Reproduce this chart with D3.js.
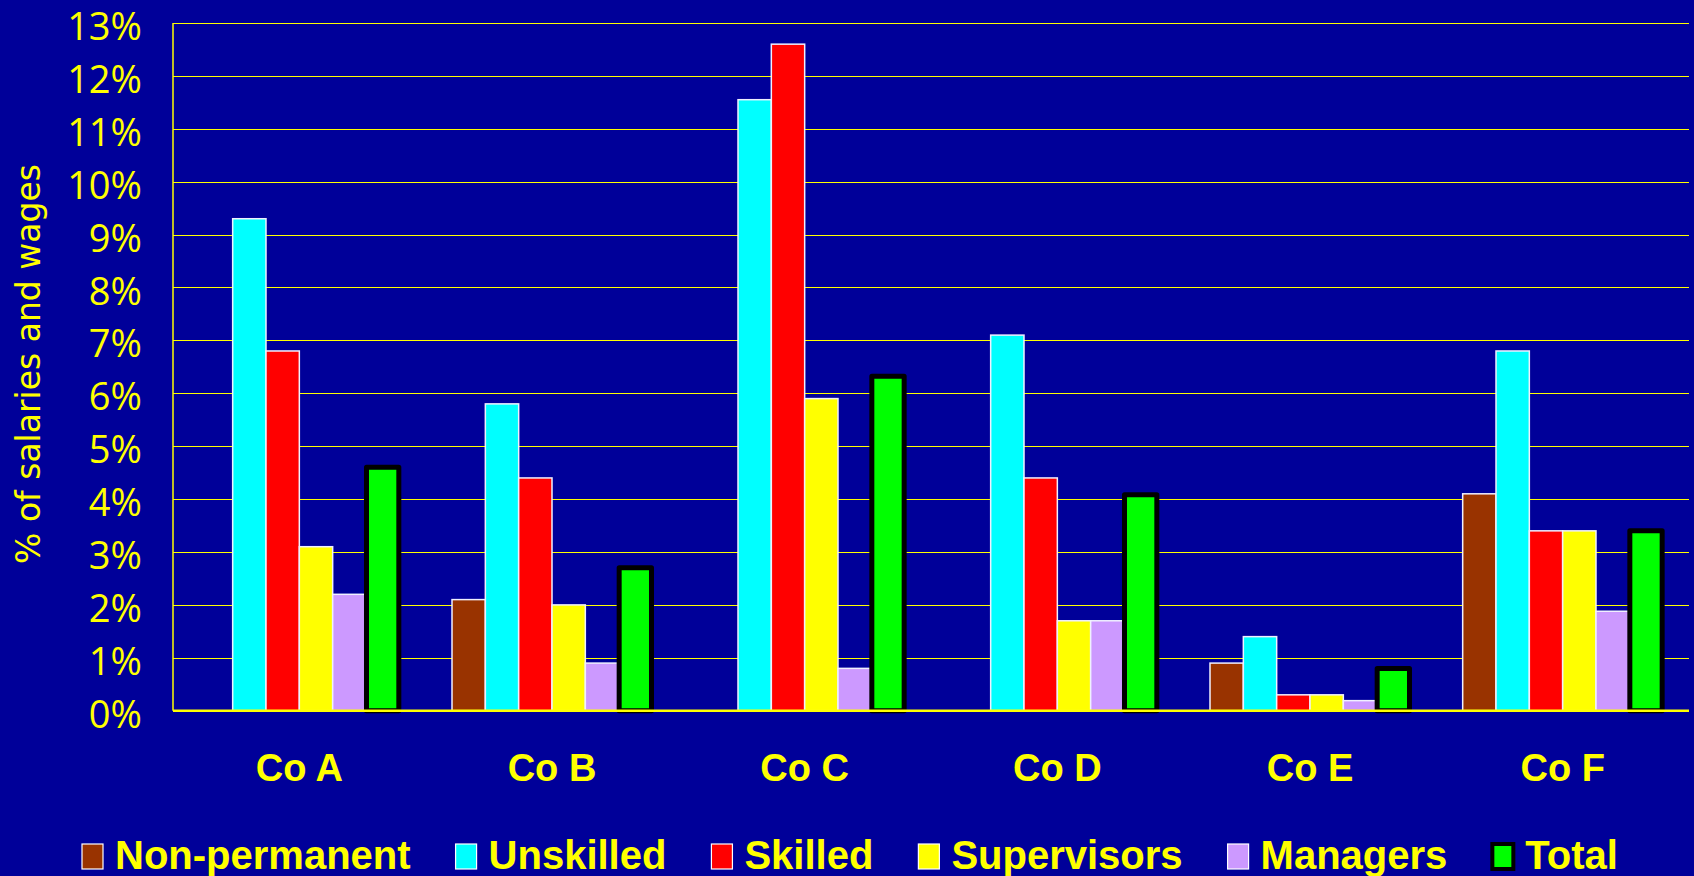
<!DOCTYPE html>
<html>
<head>
<meta charset="utf-8">
<script src="https://cdn.jsdelivr.net/npm/d3@7"></script>
<style>
  html, body { margin: 0; padding: 0; background: #000099; }
  svg { display: block; }
</style>
</head>
<body>
<svg id="chart" width="1694" height="876"></svg>
<script>
// ---- data ----
const categories = ["Co A", "Co B", "Co C", "Co D", "Co E", "Co F"];
const seriesNames = ["Non-permanent", "Unskilled", "Skilled", "Supervisors", "Managers", "Total"];
const nonPermanent = [0, 2.1, 0, 0, 0.9, 4.1];
const unskilled    = [9.3, 5.8, 11.55, 7.1, 1.4, 6.8];
const skilled      = [6.8, 4.4, 12.6, 4.4, 0.3, 3.4];
const supervisors  = [3.1, 2.0, 5.9, 1.7, 0.3, 3.4];
const managers     = [2.2, 0.9, 0.8, 1.7, 0.19, 1.88];
const total        = [4.6, 2.7, 6.32, 4.08, 0.8, 3.4];
const yTicks = [0,1,2,3,4,5,6,7,8,9,10,11,12,13];
const yTitle = "% of salaries and wages";

const seriesValues = [nonPermanent, unskilled, skilled, supervisors, managers, total];
const colors = ["#993300", "#00FFFF", "#FF0000", "#FFFF00", "#CC99FF", "#00FF00"];

// ---- layout ----
const svg = d3.select("#chart");
const W = 1694, H = 876;
const mLeft = 173, mRight = 1689, mTop = 23, mBottom = 710.7;
const yellow = "#FFFF00";

svg.append("rect").attr("width", W).attr("height", H).attr("fill", "#000099");

const x0 = d3.scaleBand().domain(categories).range([mLeft, mRight])
  .paddingInner(0.2085).paddingOuter(0.10425);
const x1 = d3.scaleBand().domain(seriesNames).range([0, x0.bandwidth()]);
const y = d3.scaleLinear().domain([0, 13]).range([mBottom, mTop]);

// gridlines
svg.append("g").selectAll("line").data(yTicks.filter(t => t > 0)).join("line")
  .attr("x1", mLeft).attr("x2", mRight)
  .attr("y1", d => Math.round(y(d)) + 0.5).attr("y2", d => Math.round(y(d)) + 0.5)
  .attr("stroke", yellow).attr("stroke-width", 1.2);

// y axis line
svg.append("line").attr("x1", mLeft).attr("x2", mLeft).attr("y1", mTop).attr("y2", mBottom)
  .attr("stroke", yellow).attr("stroke-width", 1.5);

// tick labels
svg.append("g").selectAll("text").data(yTicks).join("text")
  .attr("x", 142).attr("y", d => y(d) + 2)
  .attr("text-anchor", "end").attr("dominant-baseline", "central")
  .attr("fill", yellow).attr("font-family", "'Open Sans', sans-serif")
  .attr("font-size", 38).text(d => d + "%");

// y title
svg.append("text")
  .attr("transform", "translate(40,364) rotate(-90)")
  .attr("text-anchor", "middle").attr("fill", yellow)
  .attr("font-family", "'DejaVu Sans', sans-serif").attr("font-size", 33)
  .text(yTitle);

// bars
const groups = svg.append("g").selectAll("g").data(categories).join("g")
  .attr("transform", d => `translate(${x0(d)},0)`);

groups.each(function(cat, ci) {
  const g = d3.select(this);
  seriesNames.forEach((s, si) => {
    const v = seriesValues[si][ci];
    if (!(v > 0)) return;
    const isTotal = s === "Total";
    g.append("rect")
      .attr("x", x1(s) + (isTotal ? 0.5 : 0))
      .attr("y", y(v))
      .attr("width", x1.bandwidth() - (isTotal ? 1 : 0))
      .attr("height", y(0) - y(v))
      .attr("fill", colors[si])
      .attr("stroke", isTotal ? "#000000" : "#F0F0FF")
      .attr("stroke-width", isTotal ? 5 : 1.5)
      .attr("stroke-linejoin", isTotal ? "round" : "miter");
  });
});

// baseline axis
svg.append("line").attr("x1", mLeft).attr("x2", mRight).attr("y1", mBottom).attr("y2", mBottom)
  .attr("stroke", yellow).attr("stroke-width", 2.5);

// category labels
svg.append("g").selectAll("text").data(categories).join("text")
  .attr("x", d => x0(d) + x0.bandwidth() / 2).attr("y", 781)
  .attr("text-anchor", "middle").attr("fill", yellow)
  .attr("font-family", "'Liberation Sans', Arial, sans-serif").attr("font-weight", "bold")
  .attr("font-size", 38).text(d => d);

// legend
const legend = svg.append("g");
let lx = 82;
seriesNames.forEach((s, i) => {
  const isTotal = s === "Total";
  legend.append("rect")
    .attr("x", lx).attr("y", 844).attr("width", 21).attr("height", 25)
    .attr("fill", colors[i])
    .attr("stroke", isTotal ? "#000000" : "#FFFFFF")
    .attr("stroke-width", isTotal ? 4 : 1.2);
  const t = legend.append("text")
    .attr("x", lx + 33).attr("y", 869)
    .attr("fill", yellow)
    .attr("font-family", "'Liberation Sans', Arial, sans-serif").attr("font-weight", "bold")
    .attr("font-size", 40).text(s);
  const w = t.node().getComputedTextLength();
  lx = lx + 33 + w + 45;
});
</script>
</body>
</html>
